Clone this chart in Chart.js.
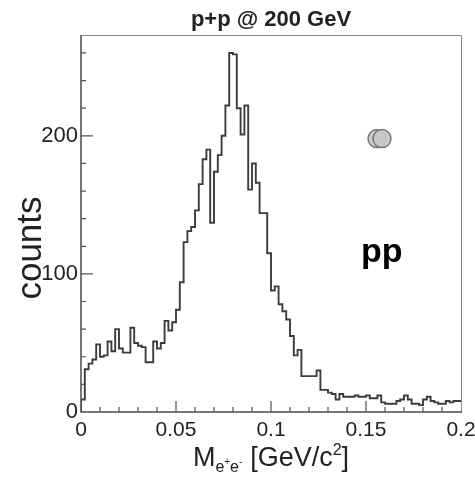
<!DOCTYPE html>
<html><head><meta charset="utf-8">
<script src="https://cdn.jsdelivr.net/npm/chart.js@4/dist/chart.umd.min.js"></script>
<style>html,body{margin:0;padding:0;background:#fff;overflow:hidden}#wrap{width:475px;height:477px;position:relative}</style>
</head><body><div id="wrap"><canvas id="c" width="475" height="477"></canvas></div>
<script>
// ---- data ----
const titleText = 'p+p @ 200 GeV';
const systemLabel = 'pp';
const binWidth = 0.002;       // GeV/c^2 per bin, bins start at 0
const counts = [
  3, 9, 31, 35, 38, 49, 40, 41, 51, 44,
  60, 46, 43, 43, 61, 50, 48, 47, 36, 36,
  51, 46, 50, 66, 59, 65, 74, 94, 123, 131,
  134, 146, 165, 183, 190, 137, 174, 186, 200, 222,
  260, 259, 220, 201, 222, 161, 180, 166, 144, 144,
  115, 88, 91, 78, 73, 67, 55, 41, 45, 26,
  26, 26, 26, 30, 16, 16, 14, 13, 9, 13,
  11, 11, 11, 12, 11, 11, 12, 10, 10, 12,
  7, 6, 6, 6, 8, 9, 12, 9, 6, 6,
  5, 9, 11, 8, 7, 6, 6, 8, 7, 8
];
const xTickLabels = [0, 0.05, 0.1, 0.15, 0.2];
const yTickLabels = [0, 100, 200];
const markerX = [0.1558, 0.1584];
const markerY = [198, 198];

// ---- build histogram table ----
const histPts = [{x: 0, y: 0}];
counts.forEach((c, i) => histPts.push({x: +(i * binWidth).toFixed(4), y: c}));
histPts.push({x: +(counts.length * binWidth).toFixed(4), y: counts[counts.length - 1]});
const markerPts = markerX.map((x, i) => ({x, y: markerY[i]}));

const FONT = '"Liberation Sans", Arial, Helvetica, sans-serif';

const rootStyle = {
  id: 'rootStyle',
  afterDraw(chart) {
    const ctx = chart.ctx, a = chart.chartArea;
    const xs = chart.scales.x, ys = chart.scales.y;
    ctx.save();
    // frame
    ctx.lineWidth = 1;
    ctx.strokeStyle = '#8a8a8a';
    ctx.beginPath();
    ctx.moveTo(a.left, a.top + 0.5); ctx.lineTo(a.right + 0.5, a.top + 0.5); ctx.lineTo(a.right + 0.5, a.bottom);
    ctx.stroke();
    ctx.strokeStyle = '#4a4a4a';
    ctx.lineWidth = 1.5;
    ctx.beginPath();
    ctx.moveTo(a.left, a.top); ctx.lineTo(a.left, a.bottom); ctx.lineTo(a.right + 1, a.bottom);
    ctx.stroke();
    // inward ticks
    ctx.lineWidth = 1.2;
    ctx.strokeStyle = '#555';
    ctx.beginPath();
    for (let k = 1; k < 20; k++) {
      const v = k * 0.01, px = xs.getPixelForValue(v);
      const len = (k % 5 === 0) ? 11 : 5;
      ctx.moveTo(px, a.bottom); ctx.lineTo(px, a.bottom - len);
    }
    for (let v = 20; v <= ys.max; v += 20) {
      const py = ys.getPixelForValue(v);
      const len = (v % 100 === 0) ? 12 : 5;
      ctx.moveTo(a.left, py); ctx.lineTo(a.left + len, py);
    }
    ctx.stroke();
    // title
    ctx.fillStyle = '#222';
    ctx.font = 'bold 22px ' + FONT;
    ctx.textAlign = 'center'; ctx.textBaseline = 'alphabetic';
    ctx.fillText(titleText, (a.left + a.right) / 2, 26);
    // pp label
    ctx.fillStyle = '#000';
    ctx.font = 'bold 34px ' + FONT;
    ctx.textAlign = 'left';
    ctx.fillText(systemLabel, 361, 262);
    // y title
    ctx.save();
    ctx.fillStyle = '#222';
    ctx.font = '35px ' + FONT;
    ctx.translate(41, 248);
    ctx.rotate(-Math.PI / 2);
    ctx.textAlign = 'center';
    ctx.fillText('counts', 0, 0);
    ctx.restore();
    // x title: M_{e+e-} [GeV/c^2]
    const parts = [
      {t: 'M', f: '27px', dy: 0},
      {t: 'e', f: '16px', dy: 6},
      {t: '+', f: '10px', dy: -1},
      {t: 'e', f: '16px', dy: 6},
      {t: '-', f: '11px', dy: -1},
      {t: ' [GeV/c', f: '27px', dy: 0},
      {t: '2', f: '16px', dy: -11},
      {t: ']', f: '27px', dy: 0}
    ];
    let total = 0;
    parts.forEach(p => { ctx.font = p.f + ' ' + FONT; p.w = ctx.measureText(p.t).width; total += p.w; });
    let x = (a.left + a.right) / 2 - total / 2;
    const base = 466;
    ctx.fillStyle = '#222';
    ctx.textAlign = 'left';
    parts.forEach(p => { ctx.font = p.f + ' ' + FONT; ctx.fillText(p.t, x, base + p.dy); x += p.w; });
    ctx.restore();
  }
};

new Chart(document.getElementById('c'), {
  type: 'line',
  data: {
    datasets: [
      {
        data: histPts, stepped: 'after', borderColor: '#3c3c3c', borderWidth: 1.9,
        pointRadius: 0, fill: false, tension: 0, order: 2
      },
      {
        type: 'scatter', data: markerPts, pointRadius: 9, pointHoverRadius: 9,
        backgroundColor: 'rgba(200,200,200,0.9)', borderColor: '#777', borderWidth: 1.5, order: 1
      }
    ]
  },
  options: {
    responsive: false, animation: false, devicePixelRatio: 1,
    layout: {padding: {top: 35, right: 14, left: 0, bottom: 0}},
    plugins: {legend: {display: false}, tooltip: {enabled: false}, title: {display: false}},
    scales: {
      x: {
        type: 'linear', min: 0, max: 0.2,
        grid: {display: false, drawTicks: false}, border: {display: false},
        afterBuildTicks: s => { s.ticks = xTickLabels.map(v => ({value: v})); },
        ticks: {
          autoSkip: false, maxRotation: 0, padding: 6, color: '#222',
          font: {family: FONT, size: 21},
          callback: v => String(+(+v).toFixed(2))
        },
        afterFit: s => { s.height = 65; s.paddingLeft = 0; s.paddingRight = 0; }
      },
      y: {
        min: 0, max: 273,
        grid: {display: false, drawTicks: false}, border: {display: false},
        afterBuildTicks: s => { s.ticks = yTickLabels.map(v => ({value: v})); },
        ticks: {
          autoSkip: false, padding: 3, color: '#222',
          font: {family: FONT, size: 22},
          callback: v => String(v)
        },
        afterFit: s => { s.width = 81; s.paddingTop = 0; s.paddingBottom = 0; }
      }
    }
  },
  plugins: [rootStyle]
});
</script>
</body></html>
